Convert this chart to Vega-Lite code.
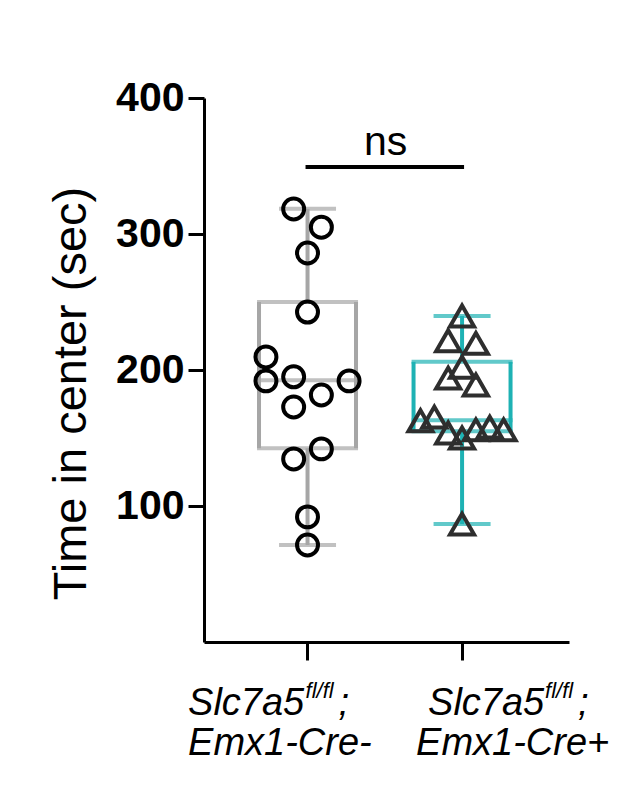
{
  "$schema": "https://vega.github.io/schema/vega-lite/v6.json",
  "autosize": "none",
  "width": 365,
  "height": 544,
  "padding": {"left": 204, "top": 98, "right": 54, "bottom": 145},
  "background": "white",
  "config": {
    "view": {"stroke": null},
    "font": "Liberation Sans"
  },
  "datasets": {
    "pts": [
      {"group": "Cre-", "v": 318.4, "slot": -1},
      {"group": "Cre-", "v": 305, "slot": 1},
      {"group": "Cre-", "v": 286, "slot": 0},
      {"group": "Cre-", "v": 242.6, "slot": 0},
      {"group": "Cre-", "v": 209.6, "slot": -3},
      {"group": "Cre-", "v": 192, "slot": -3},
      {"group": "Cre-", "v": 195, "slot": -1},
      {"group": "Cre-", "v": 192, "slot": 3},
      {"group": "Cre-", "v": 181.6, "slot": 1},
      {"group": "Cre-", "v": 172.8, "slot": -1},
      {"group": "Cre-", "v": 142, "slot": 1},
      {"group": "Cre-", "v": 134.6, "slot": -1},
      {"group": "Cre-", "v": 92, "slot": 0},
      {"group": "Cre-", "v": 71.3, "slot": 0},
      {"group": "Cre+", "v": 239.7, "slot": 0},
      {"group": "Cre+", "v": 221.5, "slot": -1},
      {"group": "Cre+", "v": 219.6, "slot": 1},
      {"group": "Cre+", "v": 202, "slot": 0},
      {"group": "Cre+", "v": 194, "slot": -1},
      {"group": "Cre+", "v": 189, "slot": 1},
      {"group": "Cre+", "v": 162.7, "slot": -3},
      {"group": "Cre+", "v": 165.4, "slot": -2},
      {"group": "Cre+", "v": 153.7, "slot": -1},
      {"group": "Cre+", "v": 150, "slot": 0},
      {"group": "Cre+", "v": 156, "slot": 1},
      {"group": "Cre+", "v": 158, "slot": 2},
      {"group": "Cre+", "v": 156, "slot": 3},
      {"group": "Cre+", "v": 86.7, "slot": 0}
    ],
    "box": [
      {"group": "Cre-", "min": 71.3, "q1": 142.5, "median": 192.5, "q3": 250, "max": 318.5},
      {"group": "Cre+", "min": 86.7, "q1": 155, "median": 163, "q3": 206, "max": 239.7}
    ],
    "labels": [
      {"group": "Cre-", "l1": "Slc7a5", "sup": "fl/fl", "semi": ";", "l2": "Emx1-Cre-"},
      {"group": "Cre+", "l1": "Slc7a5", "sup": "fl/fl", "semi": ";", "l2": "Emx1-Cre+"}
    ],
    "one": [{}]
  },
  "encoding": {
    "x": {
      "field": "group", "type": "nominal", "sort": ["Cre-", "Cre+"], "title": null,
      "scale": {"type": "band", "paddingInner": 0.372, "paddingOuter": 0.367, "align": 0.485},
      "axis": {"labels": false, "ticks": true, "tickSize": 18, "tickWidth": 3, "tickColor": "black", "domainWidth": 3, "domainColor": "black", "grid": false, "title": null}
    }
  },
  "layer": [
    {
      "data": {"name": "box"},
      "mark": {"type": "rule", "strokeWidth": 4},
      "encoding": {
        "y": {"field": "min", "type": "quantitative", "title": "Time in center (sec)",
          "scale": {"domain": [0, 400], "nice": false, "zero": true},
          "axis": {"values": [100, 200, 300, 400], "labelFontSize": 41, "labelFontWeight": "bold", "labelColor": "black", "labelPadding": 4, "tickSize": 16, "tickWidth": 3, "tickColor": "black", "domainWidth": 3, "domainColor": "black", "grid": false, "titleFontSize": 47, "titleFontWeight": "normal", "titleColor": "black", "titlePadding": 20, "titleY": 295}},
        "y2": {"field": "q1"},
        "stroke": {"field": "group", "type": "nominal", "scale": {"domain": ["Cre-", "Cre+"], "range": ["#a6a6a6", "#1eb2b4"]}, "legend": null}
      }
    },
    {
      "data": {"name": "box"},
      "mark": {"type": "rule", "strokeWidth": 4},
      "encoding": {
        "y": {"field": "q3", "type": "quantitative", "title": "Time in center (sec)"},
        "y2": {"field": "max"},
        "stroke": {"field": "group", "type": "nominal", "legend": null}
      }
    },
    {
      "data": {"name": "box"},
      "mark": {"type": "rule", "strokeWidth": 4},
      "encoding": {
        "xOffset": {"datum": -3.5, "type": "quantitative", "scale": {"domain": [-3.5, 3.5], "range": [0, 97], "nice": false, "zero": false}},
        "y": {"field": "q1", "type": "quantitative", "title": "Time in center (sec)"},
        "y2": {"field": "q3"},
        "stroke": {"field": "group", "type": "nominal", "legend": null}
      }
    },
    {
      "data": {"name": "box"},
      "mark": {"type": "rule", "strokeWidth": 4},
      "encoding": {
        "xOffset": {"datum": 3.5, "type": "quantitative"},
        "y": {"field": "q1", "type": "quantitative", "title": "Time in center (sec)"},
        "y2": {"field": "q3"},
        "stroke": {"field": "group", "type": "nominal", "legend": null}
      }
    },
    {
      "data": {"name": "box"},
      "mark": {"type": "tick", "size": 101, "thickness": 4},
      "encoding": {
        "y": {"field": "q1", "type": "quantitative", "title": "Time in center (sec)"},
        "color": {"field": "group", "type": "nominal", "scale": {"domain": ["Cre-", "Cre+"], "range": ["#a6a6a6", "#1eb2b4"]}, "legend": null}
      }
    },
    {
      "data": {"name": "box"},
      "mark": {"type": "tick", "size": 101, "thickness": 4},
      "encoding": {
        "y": {"field": "q3", "type": "quantitative", "title": "Time in center (sec)"},
        "color": {"field": "group", "type": "nominal", "legend": null}
      }
    },
    {
      "data": {"name": "box"},
      "mark": {"type": "tick", "size": 101, "thickness": 4},
      "encoding": {
        "y": {"field": "median", "type": "quantitative", "title": "Time in center (sec)"},
        "color": {"field": "group", "type": "nominal", "legend": null}
      }
    },
    {
      "data": {"name": "box"},
      "mark": {"type": "tick", "size": 57, "thickness": 4},
      "encoding": {
        "y": {"field": "min", "type": "quantitative", "title": "Time in center (sec)"},
        "color": {"field": "group", "type": "nominal", "legend": null}
      }
    },
    {
      "data": {"name": "box"},
      "mark": {"type": "tick", "size": 57, "thickness": 4},
      "encoding": {
        "y": {"field": "max", "type": "quantitative", "title": "Time in center (sec)"},
        "color": {"field": "group", "type": "nominal", "legend": null}
      }
    },
    {
      "data": {"name": "pts"},
      "mark": {"type": "point", "filled": false, "strokeWidth": 4, "opacity": 1},
      "encoding": {
        "y": {"field": "v", "type": "quantitative", "title": "Time in center (sec)"},
        "xOffset": {"field": "slot", "type": "quantitative"},
        "shape": {"field": "group", "type": "nominal", "scale": {"domain": ["Cre-", "Cre+"], "range": ["circle", "triangle-up"]}, "legend": null},
        "size": {"field": "group", "type": "nominal", "scale": {"domain": ["Cre-", "Cre+"], "range": [440, 580]}, "legend": null},
        "stroke": {"condition": {"test": "datum.group === 'Cre-'", "value": "#000000"}, "value": "#2e2e2e"}
      }
    },
    {
      "data": {"name": "one"},
      "mark": {"type": "rule", "strokeWidth": 4, "strokeCap": "square", "color": "black"},
      "encoding": {
        "x": {"datum": "Cre-"},
        "x2": {"datum": "Cre+"},
        "y": {"datum": 349.3}
      }
    },
    {
      "data": {"name": "one"},
      "mark": {"type": "text", "text": "ns", "fontSize": 41, "align": "center", "baseline": "alphabetic", "dx": 78, "dy": -12, "color": "black"},
      "encoding": {
        "x": {"datum": "Cre-"},
        "y": {"datum": 349.3}
      }
    },
    {
      "data": {"name": "labels"},
      "transform": [{"filter": "datum.group === 'Cre-'"}],
      "mark": {"type": "text", "fontSize": 38, "fontStyle": "italic", "align": "left", "baseline": "alphabetic", "dx": -119.5, "dy": 73, "color": "black"},
      "encoding": {"y": {"datum": 0}, "text": {"field": "l1"}}
    },
    {
      "data": {"name": "labels"},
      "transform": [{"filter": "datum.group === 'Cre-'"}],
      "mark": {"type": "text", "fontSize": 22, "fontStyle": "italic", "align": "left", "baseline": "alphabetic", "dx": -2, "dy": 56, "color": "black"},
      "encoding": {"y": {"datum": 0}, "text": {"field": "sup"}}
    },
    {
      "data": {"name": "labels"},
      "transform": [{"filter": "datum.group === 'Cre-'"}],
      "mark": {"type": "text", "fontSize": 38, "fontStyle": "italic", "align": "left", "baseline": "alphabetic", "dx": 31, "dy": 73, "color": "black"},
      "encoding": {"y": {"datum": 0}, "text": {"field": "semi"}}
    },
    {
      "data": {"name": "labels"},
      "transform": [{"filter": "datum.group === 'Cre-'"}],
      "mark": {"type": "text", "fontSize": 38, "fontStyle": "italic", "align": "left", "baseline": "alphabetic", "dx": -119.5, "dy": 113, "color": "black"},
      "encoding": {"y": {"datum": 0}, "text": {"field": "l2"}}
    },
    {
      "data": {"name": "labels"},
      "transform": [{"filter": "datum.group === 'Cre+'"}],
      "mark": {"type": "text", "fontSize": 38, "fontStyle": "italic", "align": "left", "baseline": "alphabetic", "dx": -34, "dy": 73, "color": "black"},
      "encoding": {"y": {"datum": 0}, "text": {"field": "l1"}}
    },
    {
      "data": {"name": "labels"},
      "transform": [{"filter": "datum.group === 'Cre+'"}],
      "mark": {"type": "text", "fontSize": 22, "fontStyle": "italic", "align": "left", "baseline": "alphabetic", "dx": 83, "dy": 56, "color": "black"},
      "encoding": {"y": {"datum": 0}, "text": {"field": "sup"}}
    },
    {
      "data": {"name": "labels"},
      "transform": [{"filter": "datum.group === 'Cre+'"}],
      "mark": {"type": "text", "fontSize": 38, "fontStyle": "italic", "align": "left", "baseline": "alphabetic", "dx": 116, "dy": 73, "color": "black"},
      "encoding": {"y": {"datum": 0}, "text": {"field": "semi"}}
    },
    {
      "data": {"name": "labels"},
      "transform": [{"filter": "datum.group === 'Cre+'"}],
      "mark": {"type": "text", "fontSize": 38, "fontStyle": "italic", "align": "left", "baseline": "alphabetic", "dx": -46, "dy": 113, "color": "black"},
      "encoding": {"y": {"datum": 0}, "text": {"field": "l2"}}
    }
  ]
}
